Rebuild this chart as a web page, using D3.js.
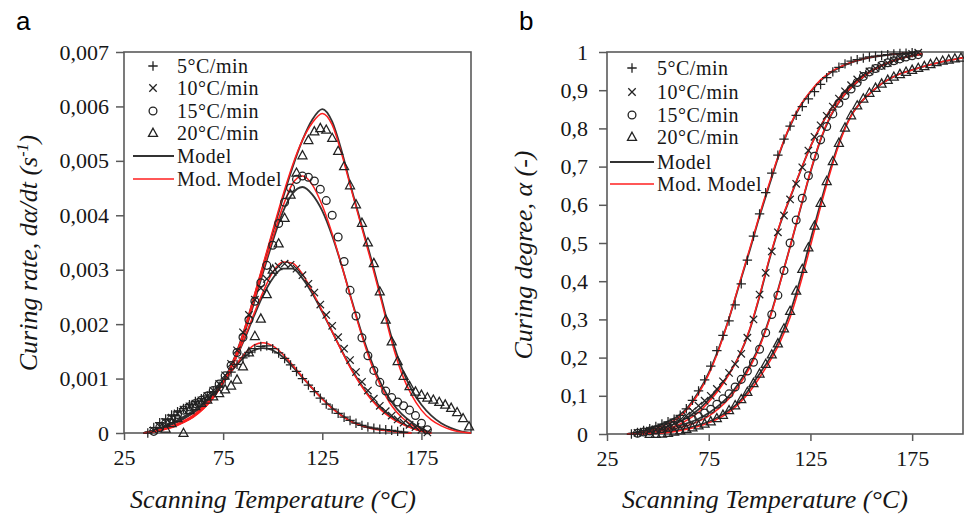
<!DOCTYPE html>
<html>
<head>
<meta charset="utf-8">
<script src="https://cdn.jsdelivr.net/npm/d3@7"></script>
<style>
  body { margin: 0; background: #fff; }
  svg { display: block; }
  .serif { font-family: "Liberation Serif", "Times New Roman", "DejaVu Serif", serif; }
  .sans { font-family: "Liberation Sans", Arial, sans-serif; }
</style>
</head>
<body>
<svg id="chart" width="964" height="515"></svg>
<script>
// ---------- data ----------
// Scanning temperatures (°C) of the measured points
const tempGrid = [37,40,43,46,49,52,55,58,61,64,67,70,73,76,79,82,85,88,91,94,97,100,103,106,109,112,115,118,121,124,127,130,133,136,139,142,145,148,151,154,157,160,163,166,169,172,175,178,181,184,187,190,193,196,199];
// Temperatures (°C) at which the model curves are evaluated
const modelTemp = [35,40,45,50,55,60,65,70,75,80,85,90,95,100,105,110,115,120,125,130,135,140,145,150,155,160,165,170,175,180,185,190,195,200];

const heatingRates = ["5°C/min", "10°C/min", "15°C/min", "20°C/min"];

// Curing rate dα/dt, in units of 10⁻³ s⁻¹ (null = no measurement)
const rate5  = [0,0.1,0.19,0.26,0.33,0.39,0.45,0.52,0.58,0.63,0.68,0.76,0.86,0.99,1.12,1.26,1.38,1.48,1.55,1.59,1.6,1.55,1.47,1.37,1.25,1.13,1.0,0.88,0.76,0.64,0.53,0.44,0.36,0.29,0.23,0.18,0.14,0.11,0.09,0.07,0.06,0.05,0.03,0.01,null,null,null,null,null,null,null,null,null,null,null];
const rate10 = [null,0.05,0.12,0.2,0.28,0.36,0.43,0.49,0.54,0.6,0.68,0.78,0.9,1.06,1.27,1.52,1.85,2.17,2.45,2.66,2.83,2.96,3.06,3.11,3.09,3.02,2.9,2.74,2.58,2.36,2.17,1.97,1.76,1.55,1.34,1.12,0.94,0.78,0.63,0.5,0.4,0.32,0.25,0.19,0.15,0.11,0.06,0.01,null,null,null,null,null,null,null];
const rate15 = [null,0.03,0.1,0.18,0.26,0.34,0.42,0.48,0.54,0.6,0.68,0.78,0.9,1.05,1.24,1.48,1.76,2.08,2.42,2.76,3.08,3.45,3.85,4.24,4.5,4.66,4.72,4.7,4.63,4.48,4.27,4.0,3.6,3.15,2.62,2.15,1.75,1.42,1.15,0.93,0.77,0.65,0.57,0.5,0.42,0.32,0.18,0.06,null,null,null,null,null,null,null];
const rate20 = [null,null,null,0.08,0.18,0.27,0.0,0.42,0.49,0.55,0.61,0.67,0.73,0.8,0.87,0.98,1.22,1.48,1.78,2.1,2.55,3.0,3.48,3.95,4.38,4.78,5.1,5.38,5.54,5.6,5.57,5.42,5.18,4.9,4.55,4.2,3.86,3.5,3.12,2.6,2.08,1.68,1.32,1.05,0.86,0.76,0.7,0.65,0.61,0.57,0.52,0.46,0.38,0.27,0.12];

// Model and modified model curing rates (10⁻³ s⁻¹)
const modelRate5  = [0,0.05,0.12,0.2,0.3,0.41,0.55,0.73,0.95,1.17,1.37,1.51,1.56,1.52,1.4,1.22,1.02,0.82,0.63,0.46,0.32,0.21,0.14,0.09,0.06,0.04,0.02,0,null,null,null,null,null,null];
const modRate5    = [0,0.03,0.08,0.14,0.22,0.33,0.48,0.68,0.92,1.18,1.42,1.6,1.66,1.6,1.45,1.25,1.03,0.82,0.62,0.45,0.31,0.2,0.13,0.08,0.05,0.03,0.01,0,null,null,null,null,null,null];
const modelRate10 = [0,0.05,0.11,0.18,0.27,0.38,0.52,0.7,0.95,1.27,1.66,2.1,2.52,2.84,3.02,3.02,2.84,2.56,2.22,1.86,1.5,1.16,0.87,0.62,0.43,0.29,0.18,0.1,0.04,0,null,null,null,null];
const modRate10   = [0,0.03,0.07,0.12,0.2,0.3,0.45,0.65,0.92,1.26,1.68,2.14,2.58,2.95,3.14,3.12,2.92,2.6,2.24,1.86,1.49,1.14,0.85,0.6,0.41,0.27,0.17,0.09,0.03,0,null,null,null,null];
const modelRate15 = [0,0.05,0.11,0.18,0.27,0.38,0.52,0.7,0.96,1.3,1.76,2.32,2.93,3.52,4.05,4.4,4.52,4.38,4.08,3.62,3.05,2.42,1.82,1.3,0.88,0.57,0.35,0.2,0.08,0,null,null,null,null];
const modRate15   = [0,0.03,0.07,0.12,0.2,0.3,0.45,0.65,0.93,1.3,1.78,2.36,2.98,3.58,4.15,4.58,4.72,4.56,4.18,3.66,3.05,2.4,1.78,1.24,0.82,0.5,0.29,0.15,0.05,0,null,null,null,null];
const modelRate20 = [0,0.04,0.1,0.17,0.26,0.37,0.51,0.69,0.95,1.32,1.82,2.42,3.05,3.68,4.3,4.88,5.38,5.76,5.95,5.72,5.15,4.45,3.8,3.15,2.45,1.75,1.2,0.8,0.52,0.32,0.18,0.09,0.03,0];
const modRate20   = [0,0.02,0.06,0.11,0.19,0.29,0.44,0.64,0.92,1.3,1.82,2.44,3.08,3.72,4.35,4.92,5.38,5.7,5.87,5.66,5.1,4.42,3.76,3.1,2.4,1.68,1.1,0.7,0.42,0.24,0.13,0.06,0.02,0];

// Curing degree α (-)
const degree5  = [0,0.004,0.009,0.014,0.02,0.026,0.032,0.039,0.049,0.066,0.088,0.113,0.142,0.178,0.218,0.258,0.296,0.338,0.393,0.455,0.518,0.576,0.632,0.683,0.73,0.772,0.806,0.834,0.857,0.877,0.896,0.915,0.933,0.948,0.96,0.969,0.976,0.98,0.984,0.987,0.989,0.991,0.993,0.995,0.996,0.997,0.998,null,null,null,null,null,null,null,null];
const degree10 = [null,0.003,0.006,0.009,0.012,0.016,0.021,0.028,0.037,0.048,0.06,0.074,0.087,0.1,0.118,0.138,0.16,0.183,0.21,0.252,0.3,0.365,0.422,0.478,0.528,0.572,0.614,0.655,0.698,0.742,0.778,0.808,0.833,0.857,0.878,0.897,0.913,0.928,0.94,0.949,0.957,0.964,0.971,0.978,0.984,0.99,0.995,0.998,null,null,null,null,null,null,null];
const degree15 = [null,0.002,0.005,0.008,0.011,0.014,0.018,0.022,0.026,0.031,0.038,0.046,0.055,0.065,0.078,0.092,0.105,0.123,0.143,0.165,0.188,0.222,0.265,0.313,0.363,0.428,0.5,0.56,0.617,0.676,0.727,0.77,0.805,0.838,0.866,0.886,0.903,0.92,0.936,0.948,0.957,0.965,0.972,0.977,0.982,0.987,0.99,0.993,null,null,null,null,null,null,null];
const degree20 = [null,null,null,0,0,0.001,0.003,0.006,0.009,0.013,0.017,0.022,0.027,0.033,0.041,0.05,0.062,0.075,0.091,0.11,0.133,0.158,0.183,0.208,0.237,0.276,0.322,0.375,0.432,0.488,0.545,0.605,0.662,0.714,0.762,0.802,0.834,0.86,0.878,0.893,0.906,0.917,0.927,0.935,0.942,0.948,0.953,0.958,0.963,0.968,0.973,0.977,0.98,0.983,0.985];

const modelDegree5  = [0,0.004,0.012,0.022,0.033,0.047,0.072,0.11,0.16,0.225,0.303,0.39,0.478,0.57,0.655,0.738,0.806,0.858,0.895,0.925,0.946,0.961,0.972,0.98,0.986,0.99,0.993,0.995,0.997,null,null,null,null,null];
const modDegree5    = [0,0.002,0.008,0.016,0.027,0.042,0.068,0.106,0.156,0.222,0.303,0.393,0.482,0.574,0.66,0.74,0.808,0.86,0.897,0.927,0.948,0.962,0.973,0.981,0.987,0.991,0.994,0.996,0.998,null,null,null,null,null];
const modelDegree10 = [0,0.003,0.008,0.013,0.02,0.03,0.045,0.064,0.09,0.12,0.158,0.205,0.27,0.36,0.46,0.548,0.618,0.687,0.752,0.806,0.85,0.885,0.913,0.935,0.951,0.964,0.975,0.984,0.991,0.996,null,null,null,null];
const modDegree10   = [0,0.002,0.005,0.009,0.015,0.024,0.038,0.057,0.084,0.116,0.156,0.205,0.272,0.363,0.463,0.55,0.62,0.688,0.752,0.806,0.85,0.885,0.913,0.935,0.951,0.964,0.975,0.984,0.991,0.996,null,null,null,null];
const modelDegree15 = [0,0.002,0.006,0.01,0.015,0.021,0.029,0.04,0.055,0.075,0.1,0.135,0.178,0.232,0.305,0.395,0.49,0.588,0.685,0.77,0.833,0.876,0.906,0.93,0.95,0.965,0.976,0.984,0.99,0.994,null,null,null,null];
const modDegree15   = [0,0.001,0.004,0.007,0.011,0.016,0.023,0.033,0.047,0.067,0.093,0.128,0.172,0.228,0.302,0.393,0.49,0.59,0.687,0.772,0.835,0.877,0.907,0.931,0.95,0.965,0.976,0.984,0.99,0.994,null,null,null,null];
const modelDegree20 = [0,0,0.001,0.003,0.006,0.01,0.016,0.023,0.032,0.045,0.062,0.085,0.118,0.158,0.198,0.25,0.318,0.405,0.507,0.605,0.697,0.777,0.834,0.87,0.895,0.917,0.933,0.945,0.953,0.961,0.968,0.975,0.98,0.985];
const modDegree20   = [0,0,0.001,0.002,0.004,0.008,0.013,0.02,0.029,0.041,0.057,0.08,0.11,0.148,0.19,0.24,0.305,0.392,0.492,0.595,0.69,0.772,0.832,0.869,0.895,0.917,0.933,0.945,0.953,0.961,0.968,0.975,0.98,0.985];

// Axis ticks
const tempTicks = [25, 75, 125, 175];
const rateTickValues = [0, 1, 2, 3, 4, 5, 6, 7];
const rateTickLabels = ["0", "0,001", "0,002", "0,003", "0,004", "0,005", "0,006", "0,007"];
const degreeTickValues = [0, 0.1, 0.2, 0.3, 0.4, 0.5, 0.6, 0.7, 0.8, 0.9, 1];
const degreeTickLabels = ["0", "0,1", "0,2", "0,3", "0,4", "0,5", "0,6", "0,7", "0,8", "0,9", "1"];

// ---------- drawing ----------
const svg = d3.select("#chart");
const FRAME = "#5a5a5a";
const TEXT = "#161616";
const MARK = "#222";
const MODEL_BLACK = "#333";
const MODEL_RED = "#ff1f1f";
const markerKinds = ["plus", "cross", "circle", "triangle"];

function pairs(ts, vs) {
  return ts.map((t, i) => ({ t, v: vs[i] })).filter(d => d.v != null);
}

function drawMarker(g, kind, cx, cy) {
  if (kind === "circle") {
    g.append("circle").attr("cx", cx).attr("cy", cy).attr("r", 3.9);
    return;
  }
  let d;
  if (kind === "plus") d = `M${cx-4.7},${cy}H${cx+4.7}M${cx},${cy-4.7}V${cy+4.7}`;
  else if (kind === "cross") d = `M${cx-3.7},${cy-3.7}L${cx+3.7},${cy+3.7}M${cx-3.7},${cy+3.7}L${cx+3.7},${cy-3.7}`;
  else d = `M${cx},${cy-4.8}L${cx+4.5},${cy+3.4}L${cx-4.5},${cy+3.4}Z`;
  g.append("path").attr("d", d);
}

function drawPanel(p) {
  const x = d3.scaleLinear().domain([25, 200]).range([p.left, p.right]);
  const y = d3.scaleLinear().domain(p.yDomain).range([p.bottom, p.top]);
  const g = svg.append("g");

  // axes
  const ax = g.append("g")
    .attr("transform", `translate(0,${p.bottom})`)
    .call(d3.axisBottom(x).tickValues(tempTicks).tickSize(7).tickPadding(9).tickSizeOuter(0));
  const ay = g.append("g")
    .attr("transform", `translate(${p.left},0)`)
    .call(d3.axisLeft(y).tickValues(p.yTickValues)
      .tickFormat((d, i) => p.yTickLabels[i]).tickSize(8).tickPadding(p.yPad).tickSizeOuter(0));
  [ax, ay].forEach(a => {
    a.attr("font-family", null).attr("font-size", null);
    a.select(".domain").remove();
    a.selectAll(".tick line").attr("stroke", FRAME).attr("stroke-width", 1.5);
    a.selectAll(".tick text").attr("class", "serif").style("font-size", "22px").attr("fill", TEXT);
  });

  // plot frame
  g.append("rect")
    .attr("x", p.left).attr("y", p.top)
    .attr("width", p.right - p.left).attr("height", p.bottom - p.top)
    .attr("fill", "none").attr("stroke", FRAME).attr("stroke-width", 1.6);

  const plot = g.append("g");
  const line = d3.line().x(d => x(d.t)).y(d => y(d.v)).curve(d3.curveMonotoneX);

  p.models.forEach(vs => {
    plot.append("path").datum(pairs(modelTemp, vs)).attr("d", line)
      .attr("fill", "none").attr("stroke", MODEL_BLACK).attr("stroke-width", 1.8);
  });
  p.modModels.forEach(vs => {
    plot.append("path").datum(pairs(modelTemp, vs)).attr("d", line)
      .attr("fill", "none").attr("stroke", MODEL_RED).attr("stroke-width", 1.5);
  });

  const marks = plot.append("g").attr("fill", "none").attr("stroke", MARK).attr("stroke-width", 1.25);
  p.series.forEach((vs, si) => {
    pairs(tempGrid, vs).forEach(d => drawMarker(marks, markerKinds[si], x(d.t), y(d.v)));
  });

  // legend
  const lg = g.append("g");
  const lm = lg.append("g").attr("fill", "none").attr("stroke", MARK).attr("stroke-width", 1.3);
  const legendText = (tx, ty, label) => lg.append("text").attr("class", "serif")
    .attr("x", tx).attr("y", ty).style("font-size", "20px").style("letter-spacing", "0.5px")
    .attr("fill", TEXT).text(label);
  heatingRates.forEach((name, i) => {
    drawMarker(lm, markerKinds[i], p.legend.markX, p.legend.rows[i]);
    legendText(p.legend.textX, p.legend.rows[i] + 7, name);
  });
  [["Model", MODEL_BLACK, 1.8], ["Mod. Model", MODEL_RED, 1.6]].forEach(([name, col, w], k) => {
    const ry = p.legend.rows[4 + k];
    lg.append("line").attr("x1", p.legend.lineX0).attr("x2", p.legend.lineX1)
      .attr("y1", ry).attr("y2", ry).attr("stroke", col).attr("stroke-width", w);
    legendText(p.legend.textX, ry + 7, name);
  });

  // axis titles
  g.append("text").attr("class", "serif").attr("x", p.xTitleX).attr("y", 508).attr("text-anchor", "middle")
    .style("font-style", "italic").style("font-size", "26px").attr("fill", TEXT)
    .text("Scanning Temperature (°C)");
  const yt = g.append("text").attr("class", "serif")
    .attr("transform", `translate(${p.yTitleX},${p.yTitleY}) rotate(-90)`)
    .attr("text-anchor", "middle")
    .style("font-style", "italic").style("font-size", "26px").attr("fill", TEXT);
  p.yTitle(yt);

  // panel letter
  g.append("text").attr("class", "sans").attr("x", p.letterX).attr("y", 30)
    .style("font-size", "26px").attr("fill", "#000").text(p.letter);
}

drawPanel({
  letter: "a", letterX: 16,
  left: 124, right: 471, top: 52, bottom: 433,
  yDomain: [0, 7], yTickValues: rateTickValues, yTickLabels: rateTickLabels, yPad: 7,
  series: [rate5, rate10, rate15, rate20],
  models: [modelRate5, modelRate10, modelRate15, modelRate20],
  modModels: [modRate5, modRate10, modRate15, modRate20],
  legend: { markX: 153, textX: 177, lineX0: 133, lineX1: 174, rows: [66, 88, 111, 133, 156, 179] },
  xTitleX: 273, yTitleX: 37, yTitleY: 253,
  yTitle: t => {
    t.append("tspan").text("Curing rate, dα/dt (s");
    t.append("tspan").attr("dy", -9).style("font-size", "16px").text("-1");
    t.append("tspan").attr("dy", 9).text(")");
  }
});

drawPanel({
  letter: "b", letterX: 519,
  left: 607, right: 963, top: 52, bottom: 434,
  yDomain: [0, 1], yTickValues: degreeTickValues, yTickLabels: degreeTickLabels, yPad: 11,
  series: [degree5, degree10, degree15, degree20],
  models: [modelDegree5, modelDegree10, modelDegree15, modelDegree20],
  modModels: [modDegree5, modDegree10, modDegree15, modDegree20],
  legend: { markX: 632, textX: 657, lineX0: 610, lineX1: 654, rows: [68, 92, 115, 137, 162, 184] },
  xTitleX: 765, yTitleX: 532, yTitleY: 255,
  yTitle: t => t.text("Curing degree, α (-)")
});
</script>
</body>
</html>
